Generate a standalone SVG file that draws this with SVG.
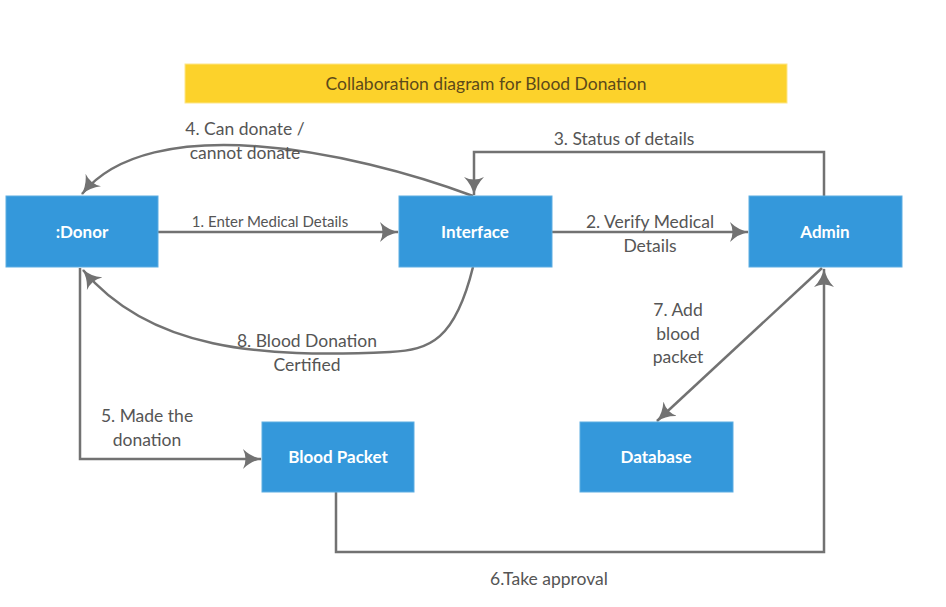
<svg xmlns="http://www.w3.org/2000/svg" width="946" height="607" viewBox="0 0 946 607">
<defs>
<style>
.node rect{fill:#3498db;stroke:#5dade2;stroke-width:1}
.node text{font-family:Lato,"Liberation Sans",sans-serif;font-size:17px;font-weight:bold;fill:#fff;text-anchor:middle}
.lbl{font-family:Lato,"Liberation Sans",sans-serif;font-size:17.5px;fill:#555;text-anchor:middle}
.sm{font-size:15px}
.conn path{fill:none;stroke:#727272;stroke-width:2.5}
</style>
<marker id="ah" viewBox="0 0 20 20" refX="18" refY="10" markerWidth="20" markerHeight="20" markerUnits="userSpaceOnUse" orient="auto">
<path d="M0,0 Q8,8 19,10 Q8,12 0,20 Q5,10 0,0 Z" fill="#727272"/>
</marker>
</defs>
<rect width="946" height="607" fill="#fff"/>
<g id="title">
<rect x="185" y="64" width="602" height="39" fill="#fcd22b" stroke="#fde68a" stroke-width="1"/>
<text x="486" y="90" font-family="Lato,'Liberation Sans',sans-serif" font-size="17.5" fill="#5c4a1a" text-anchor="middle">Collaboration diagram for Blood Donation</text>
</g>
<g id="connectors" class="conn">
<path d="M158,232 L398,232" marker-end="url(#ah)"/>
<path d="M552,232 L748,232" marker-end="url(#ah)"/>
<path d="M824,196 L824,152 L474,152 L474,195" marker-end="url(#ah)"/>
<path d="M473,196 C350,150 150,110 82,194" marker-end="url(#ah)"/>
<path d="M473,267 C455,340 430,350 390,352 C260,358 150,350 83,270" marker-end="url(#ah)"/>
<path d="M80,268 L80,459 L261,459" marker-end="url(#ah)"/>
<path d="M336,492 L336,552 L824,552 L824,269" marker-end="url(#ah)"/>
<path d="M822,268 L657,421" marker-end="url(#ah)"/>
<text class="lbl sm" x="270" y="227">1. Enter Medical Details</text>
<text class="lbl" x="650" y="228">2. Verify Medical</text>
<text class="lbl" x="650" y="252">Details</text>
<text class="lbl" x="624" y="145">3. Status of details</text>
<text class="lbl" x="245" y="135">4. Can donate /</text>
<text class="lbl" x="245" y="159">cannot donate</text>
<text class="lbl" x="147" y="422">5. Made the</text>
<text class="lbl" x="147" y="446">donation</text>
<text class="lbl" x="549" y="585">6.Take approval</text>
<text class="lbl" x="678" y="316">7. Add</text>
<text class="lbl" x="678" y="340">blood</text>
<text class="lbl" x="678" y="363">packet</text>
<text class="lbl" x="307" y="347">8. Blood Donation</text>
<text class="lbl" x="307" y="371">Certified</text>
</g>
<g id="donor" class="node"><rect x="6" y="196" width="152" height="71"/><text x="82" y="238">:Donor</text></g>
<g id="interface" class="node"><rect x="399" y="196" width="153" height="71"/><text x="475" y="238">Interface</text></g>
<g id="admin" class="node"><rect x="749" y="196" width="153" height="71"/><text x="825" y="238">Admin</text></g>
<g id="bloodpacket" class="node"><rect x="262" y="422" width="152" height="70"/><text x="338" y="463">Blood Packet</text></g>
<g id="database" class="node"><rect x="580" y="422" width="153" height="70"/><text x="656" y="463">Database</text></g>
</svg>
